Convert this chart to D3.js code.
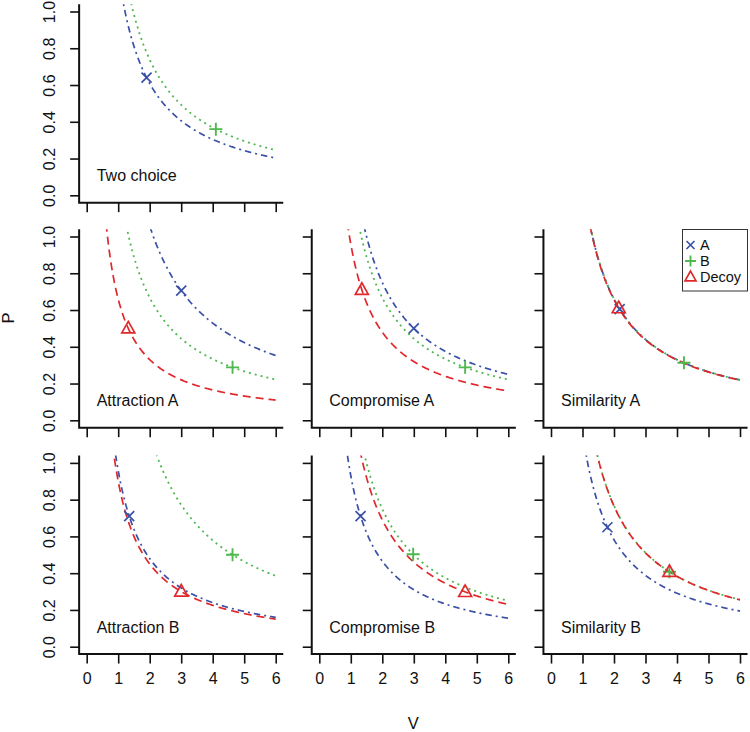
<!DOCTYPE html>
<html><head><meta charset="utf-8">
<script src="https://cdn.jsdelivr.net/npm/d3@7"></script>
<style>html,body{margin:0;padding:0;background:#fff;}svg{display:block;}text{font-family:"Liberation Sans",Arial,sans-serif;fill:#111;}</style>
</head><body>
<svg id="chart" width="750" height="732"></svg>
<script>
// ---- data ----
const panelNames = ["Two choice","Attraction A","Compromise A","Similarity A","Attraction B","Compromise B","Similarity B"];
const panelRow   = [0,1,1,1,2,2,2];
const panelCol   = [0,0,1,2,0,1,2];
const A_V = [1.90, 3.00, 3.00, 2.18, 1.35, 1.31, 1.79];
const A_P = [0.64, 0.705, 0.50, 0.605, 0.71, 0.71, 0.65];
const B_V = [4.10, 4.63, 4.63, 4.22, 4.63, 2.98, 3.76];
const B_P = [0.36, 0.288, 0.288, 0.313, 0.50, 0.503, 0.408];
const D_V = [null, 1.32, 1.35, 2.15, 3.00, 4.63, 3.76];
const D_P = [null, 0.50, 0.71, 0.61, 0.30, 0.298, 0.407];
const xTicks = [0,1,2,3,4,5,6];
const yTicks = [0,0.2,0.4,0.6,0.8,1.0];
const yTickLabels = ["0.0","0.2","0.4","0.6","0.8","1.0"];
const legendLabels = ["A","B","Decoy"];

// ---- style/layout ----
const colA = "#3a50a6", colB = "#4fb84f", colD = "#e0282c";
const colX0 = [86.7, 319.3, 551.0];
const rowY0 = [195.3, 420.3, 646.7];
const pxV = 31.5, pxP = 183.8;

const svg = d3.select("#chart");
const defs = svg.append("defs");

panelNames.forEach((name, i) => {
  const x0 = colX0[panelCol[i]], y0 = rowY0[panelRow[i]];
  const x = d3.scaleLinear().domain([-0.24, 6.24]).range([x0 - 0.24*pxV, x0 + 6.24*pxV]);
  const y = d3.scaleLinear().domain([-0.04, 1.04]).range([y0 + 0.04*pxP, y0 - 1.04*pxP]);
  const g = svg.append("g");
  const [xl, xr] = x.range(), [yb, yt] = y.range();

  defs.append("clipPath").attr("id", "clip" + i)
    .append("rect").attr("x", xl).attr("y", yt).attr("width", xr - xl).attr("height", yb - yt);

  // axes (L box + ticks)
  const yAx = d3.axisLeft(y).tickValues(yTicks).tickSize(9).tickSizeOuter(0)
    .tickFormat((d, k) => panelCol[i] === 0 ? yTickLabels[k] : "");
  const ya = g.append("g").attr("transform", `translate(${xl},0)`).call(yAx);
  const xAx = d3.axisBottom(x).tickValues(xTicks).tickSize(9.5).tickSizeOuter(0)
    .tickFormat(d => panelRow[i] === 2 ? d : "");
  const xa = g.append("g").attr("transform", `translate(0,${yb})`).call(xAx);
  [ya, xa].forEach(a => {
    a.select(".domain").remove();
    a.selectAll(".tick line").attr("stroke", "#111").attr("stroke-width", 1.6);
    a.selectAll("text").style("font-size", "16px").attr("fill", "#111");
  });
  ya.selectAll(".tick text")
    .attr("x", 0).attr("y", 0).attr("dy", 0).attr("text-anchor", "middle")
    .attr("transform", "translate(-24,0) rotate(-90)");
  xa.selectAll(".tick text").attr("y", 0).attr("dy", 0).attr("transform", "translate(0,29.5)");

  g.append("path").attr("d", `M${xl},${yt}V${yb}H${xr}`).attr("fill", "none")
    .attr("stroke", "#111").attr("stroke-width", 2);

  // indifference curves P = k / V through each option
  const vGrid = d3.range(0.3, 6.0001, 0.02);
  const line = d3.line().x(d => x(d[0])).y(d => y(d[1]));
  const curve = (k, col, dash, w) => g.append("path")
    .attr("clip-path", `url(#clip${i})`)
    .attr("d", line(vGrid.map(v => [v, k / v])))
    .attr("fill", "none").attr("stroke", col).attr("stroke-width", w).attr("stroke-dasharray", dash);
  curve(A_V[i] * A_P[i], colA, "6.5 4 2 4", 1.7);
  curve(B_V[i] * B_P[i], colB, "2 4", 1.8);
  if (D_V[i] !== null) curve(D_V[i] * D_P[i], colD, "8 5", 1.7);

  // points
  const cross = (cx, cy, col, r = 5) => g.append("path")
    .attr("d", `M${cx-r},${cy-r}L${cx+r},${cy+r}M${cx-r},${cy+r}L${cx+r},${cy-r}`)
    .attr("stroke", col).attr("stroke-width", 1.7).attr("fill", "none");
  const plus = (cx, cy, col, r = 6.5) => g.append("path")
    .attr("d", `M${cx-r},${cy}H${cx+r}M${cx},${cy-r}V${cy+r}`)
    .attr("stroke", col).attr("stroke-width", 1.9).attr("fill", "none");
  const tri = (cx, cy, col, r = 6.5) => g.append("path")
    .attr("d", `M${cx},${cy-r*1.08}L${cx+r},${cy+r*0.7}L${cx-r},${cy+r*0.7}Z`)
    .attr("stroke", col).attr("stroke-width", 1.7).attr("fill", "none");
  cross(x(A_V[i]), y(A_P[i]), colA);
  plus(x(B_V[i]), y(B_P[i]), colB);
  if (D_V[i] !== null) tri(x(D_V[i]), y(D_P[i]), colD);

  g.append("text").attr("x", x0 + 10).attr("y", y0 - 14).style("font-size", "16px").text(name);

  if (name === "Similarity A") {
    const lg = g.append("g");
    lg.append("rect").attr("x", 682.5).attr("y", 229.5).attr("width", 65).attr("height", 61.5)
      .attr("fill", "#fff").attr("stroke", "#333").attr("stroke-width", 1);
    const ly = [245, 261, 277];
    g.node().appendChild(lg.node());
    cross(690.5, ly[0], colA, 4);
    plus(690.5, ly[1], colB, 5.5);
    tri(690.5, ly[2], colD, 5.5);
    legendLabels.forEach((t, k) => lg.append("text").attr("x", 700).attr("y", ly[k] + 5)
      .style("font-size", "14.5px").text(t));
  }
});

svg.append("text").attr("x", 413.3).attr("y", 729).attr("text-anchor", "middle").style("font-size", "16.5px").text("V");
svg.append("text").attr("transform", "translate(13.5,318) rotate(-90)").attr("text-anchor", "middle").style("font-size", "16.5px").text("P");
</script>
</body></html>
